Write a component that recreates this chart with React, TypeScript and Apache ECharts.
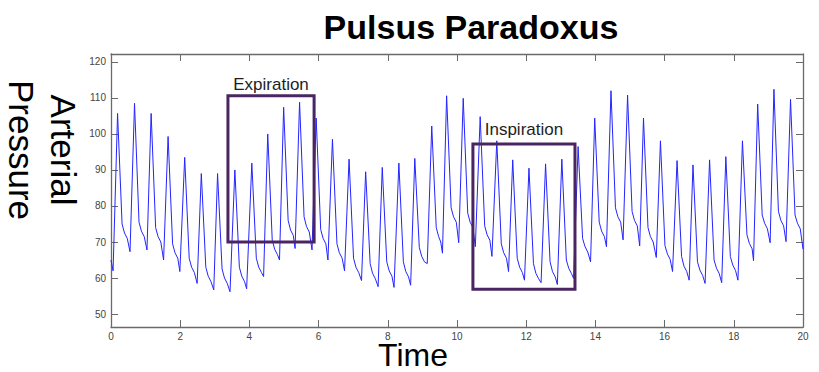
import React, { useEffect, useRef } from "react";
import * as echarts from "echarts";

// ---- data ----
const xTicks = [0, 2, 4, 6, 8, 10, 12, 14, 16, 18, 20];
const yTicks = [50, 60, 70, 80, 90, 100, 110, 120];

// start / end of the trace
const traceEnds: [number, number][] = [[0, 65], [20, 68]];

// diastolic troughs (time s, pressure)
const troughs: [number, number][] = [
  [0.06, 62], [0.55, 67.3], [1.04, 67.8], [1.52, 65], [1.99, 61.8], [2.49, 58.5],
  [2.97, 56.7], [3.44, 56.2], [3.92, 57], [4.41, 60.4], [4.87, 65], [5.32, 68.2],
  [5.81, 67.8], [6.27, 65], [6.75, 62], [7.24, 59.3], [7.72, 57.6], [8.18, 57.4],
  [8.66, 58], [9.14, 64], [9.58, 66.9], [10.05, 69.8], [10.53, 68.7], [11.01, 66],
  [11.49, 61.8], [11.95, 59.4], [12.43, 58.7], [12.9, 58.2], [13.37, 59.9], [13.86, 64.5],
  [14.32, 68.7], [14.8, 70.6], [15.28, 68.9], [15.76, 65.7], [16.23, 61.8], [16.71, 59.4],
  [17.17, 58.5], [17.65, 58.7], [18.12, 59.4], [18.57, 64.8], [19.05, 69.8], [19.51, 70.1],
];

// systolic peaks
const peaks: [number, number][] = [
  [0.19, 105.7], [0.68, 108.5], [1.16, 105.7], [1.65, 99.3], [2.13, 93.5], [2.61, 89],
  [3.08, 89], [3.58, 90], [4.07, 91.9], [4.53, 100], [4.99, 107.4], [5.45, 108.8],
  [5.93, 104.4], [6.4, 98.5], [6.88, 93], [7.36, 89.5], [7.84, 90.7], [8.32, 91.9],
  [8.78, 93.2], [9.27, 102.2], [9.7, 110.6], [10.18, 109.9], [10.67, 104.8], [11.15, 98.1],
  [11.61, 92.8], [12.08, 90.5], [12.56, 91.7], [13.03, 93], [13.5, 96.5], [13.98, 104.4],
  [14.45, 112], [14.93, 110.8], [15.39, 104.4], [15.88, 98.1], [16.36, 92.6], [16.82, 91.4],
  [17.3, 92.8], [17.77, 93.7], [18.25, 98.1], [18.69, 108.3], [19.16, 112.4], [19.64, 109.6],
];

// dicrotic notch (end of the fast fall)
const notches: [number, number][] = [
  [0.32, 75], [0.81, 75.5], [1.29, 74], [1.78, 69.5], [2.26, 65.5], [2.74, 63],
  [3.21, 62.5], [3.71, 63], [4.2, 65.5], [4.66, 70.5], [5.12, 76], [5.58, 77],
  [6.06, 73.5], [6.53, 69.5], [7.01, 65.5], [7.49, 64], [7.97, 64.5], [8.45, 64.5],
  [8.91, 68.5], [9.4, 74], [9.83, 79.5], [10.31, 78], [10.8, 74.5], [11.28, 69.5],
  [11.74, 65.5], [12.21, 64], [12.69, 64.5], [13.16, 65], [13.63, 71], [14.11, 75.5],
  [14.58, 79.5], [15.06, 78.5], [15.52, 74], [16.01, 69], [16.49, 66], [16.95, 64.5],
  [17.43, 65], [17.9, 66], [18.38, 72], [18.82, 77.5], [19.29, 78.5], [19.77, 77.5],
];

// shoulder plateau
const shoulders: [number, number][] = [
  [0.39, 72.5], [0.88, 73], [1.36, 71.5], [1.85, 67], [2.33, 63], [2.81, 60.5],
  [3.28, 60], [3.78, 60.5], [4.27, 63], [4.73, 68], [5.19, 73.3], [5.65, 74.3],
  [6.13, 71], [6.6, 67], [7.08, 63], [7.56, 61.3], [8.04, 62], [8.52, 61.8],
  [8.98, 66], [9.47, 71.5], [9.9, 77], [10.38, 75.5], [10.87, 72], [11.35, 67],
  [11.81, 63], [12.28, 61.3], [12.76, 61.8], [13.23, 62.7], [13.7, 68.7], [14.18, 73],
  [14.65, 77], [15.13, 76], [15.59, 71.5], [16.08, 66.7], [16.56, 63.3], [17.02, 62.2],
  [17.5, 62.7], [17.97, 63.6], [18.45, 69.6], [18.89, 75.2], [19.36, 76], [19.84, 75.2],
];

// end of shoulder before the next beat
const shoulderEnds: [number, number][] = [
  [0.47, 71], [0.96, 71.5], [1.44, 70], [1.93, 65.5], [2.41, 61.5], [2.89, 59],
  [3.36, 58.5], [3.86, 59], [4.35, 61.5], [4.81, 66.5], [5.27, 71.8], [5.73, 72.8],
  [6.21, 69.5], [6.68, 65.5], [7.16, 61.5], [7.64, 59.8], [8.12, 60.5], [8.6, 60.3],
  [9.06, 64.5], [9.53, 70], [9.98, 75.5], [10.46, 74], [10.95, 70.5], [11.43, 65.5],
  [11.89, 61.5], [12.36, 59.8], [12.84, 60.3], [13.31, 61.2], [13.78, 67.2], [14.26, 71.5],
  [14.73, 75.5], [15.21, 74.5], [15.67, 70], [16.16, 65.2], [16.64, 61.8], [17.1, 60.7],
  [17.58, 61.2], [18.05, 62.1], [18.53, 68.1], [18.97, 73.7], [19.44, 74.5], [19.92, 73.7],
];

// annotation boxes (time from/to, pressure low/high)
const expirationBox = { name: "Expiration", t: [3.38, 5.87], p: [70, 110.6] };
const inspirationBox = { name: "Inspiration", t: [10.46, 13.41], p: [56.9, 97.2] };

const FONT = "'Liberation Sans', Arial, Helvetica, sans-serif";

export default function App() {
  const ref = useRef<HTMLDivElement>(null);
  useEffect(() => {
    if (!ref.current) return;
    const chart = echarts.init(ref.current, null, { renderer: "svg" });
    const trace = [...traceEnds, ...troughs, ...peaks, ...notches, ...shoulders, ...shoulderEnds]
      .slice()
      .sort((a, b) => a[0] - b[0]);

    const axisLineStyle = { color: "#6a6a6a", width: 1.3 };
    const tickStyle = { color: "#6a6a6a", width: 1 };
    const labelStyle = { color: "#444", fontSize: 10, fontFamily: FONT };

    chart.setOption({
      animation: false,
      backgroundColor: "#ffffff",
      grid: { left: 111, right: 16, top: 54, bottom: 45, containLabel: false },
      xAxis: [
        {
          type: "value", min: 0, max: 20, interval: 2, position: "bottom",
          axisLine: { show: true, onZero: false, lineStyle: axisLineStyle },
          axisTick: { show: true, inside: true, length: 7, lineStyle: tickStyle },
          axisLabel: { ...labelStyle, margin: 4, customValues: xTicks },
          splitLine: { show: false },
        },
        {
          type: "value", min: 0, max: 20, interval: 2, position: "top",
          axisLine: { show: true, onZero: false, lineStyle: axisLineStyle },
          axisTick: { show: true, inside: true, length: 7, lineStyle: tickStyle },
          axisLabel: { show: false },
          splitLine: { show: false },
        },
      ],
      yAxis: [
        {
          type: "value", min: 46.4, max: 122.2, position: "left",
          axisLine: { show: true, onZero: false, lineStyle: axisLineStyle },
          axisTick: { show: true, inside: true, length: 7, lineStyle: tickStyle, customValues: yTicks },
          axisLabel: { ...labelStyle, margin: 5, customValues: yTicks },
          splitLine: { show: false },
        },
        {
          type: "value", min: 46.4, max: 122.2, position: "right",
          axisLine: { show: true, onZero: false, lineStyle: axisLineStyle },
          axisTick: { show: true, inside: true, length: 7, lineStyle: tickStyle, customValues: yTicks },
          axisLabel: { show: false },
          splitLine: { show: false },
        },
      ],
      series: [
        {
          type: "line",
          xAxisIndex: 0,
          yAxisIndex: 0,
          data: trace,
          showSymbol: false,
          symbol: "none",
          lineStyle: { color: "#2424ff", width: 1 },
          z: 2,
          markArea: {
            silent: true,
            z: 3,
            itemStyle: { color: "rgba(0,0,0,0)", borderColor: "#4a2562", borderWidth: 3 },
            label: { show: true, position: "top", color: "#1e1e1e", fontSize: 17, fontFamily: FONT },
            data: [
              [
                { name: expirationBox.name, coord: [expirationBox.t[0], expirationBox.p[1]], label: { distance: 1 } },
                { coord: [expirationBox.t[1], expirationBox.p[0]] },
              ],
              [
                { name: inspirationBox.name, coord: [inspirationBox.t[0], inspirationBox.p[1]], label: { distance: 5 } },
                { coord: [inspirationBox.t[1], inspirationBox.p[0]] },
              ],
            ],
          },
        },
      ],
      graphic: [
        {
          type: "text", x: 471, y: 27,
          style: { text: "Pulsus Paradoxus", font: `bold 34px ${FONT}`, fill: "#000", align: "center", verticalAlign: "middle" },
        },
        {
          type: "text", x: 413, y: 355,
          style: { text: "Time", font: `32px ${FONT}`, fill: "#000", align: "center", verticalAlign: "middle" },
        },
        {
          type: "text", x: 42, y: 150, rotation: -Math.PI / 2,
          style: { text: "Arterial\nPressure", font: `35px ${FONT}`, lineHeight: 42, fill: "#000", align: "center", verticalAlign: "middle" },
        },
      ],
    });
    return () => chart.dispose();
  }, []);
  return (
    <div
      ref={ref}
      style={{ position: "fixed", left: 0, top: 0, width: 819, height: 372, background: "#fff" }}
    />
  );
}
